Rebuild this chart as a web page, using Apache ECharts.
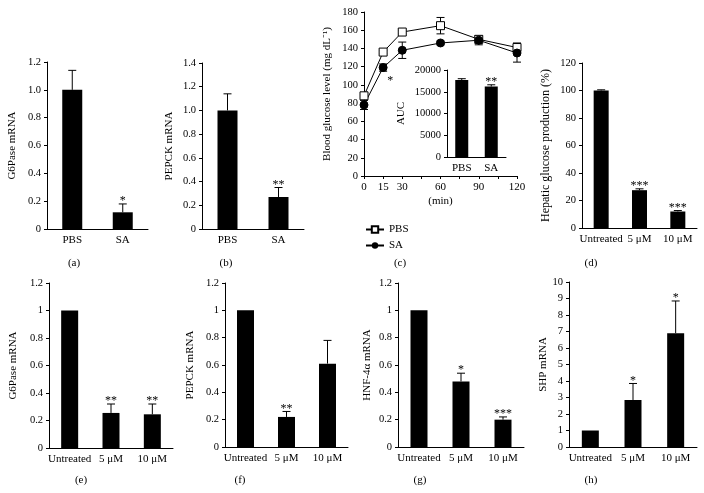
<!DOCTYPE html>
<html><head><meta charset="utf-8">
<script src="https://cdn.jsdelivr.net/npm/echarts@6/dist/echarts.min.js"></script>
<style>html,body{margin:0;padding:0;background:#fff}#c{width:704px;height:493px}</style>
</head><body><div id="c"></div>
<script>
const catsPS = ['PBS', 'SA'];
const catsDose = ['Untreated', '5 μM', '10 μM'];
const aVal = [1.0, 0.12], aErr = [0.14, 0.06], aSig = ['', '*'];
const bVal = [1.0, 0.27], bErr = [0.14, 0.08], bSig = ['', '**'];
const cTime = [0, 15, 30, 60, 90, 120];
const cPBS = [88, 136, 158, 165, 150, 141], cPBSErr = [3, 2, 2, 9, 4, 5];
const cSA = [78, 119, 138, 146, 149, 135], cSAErr = [5, 4, 9, 2, 5, 10];
const cSASig = ['', '*', '', '', '', ''];
const cTickLabels = [0, 15, 30, 60, 90, 120];
const aucVal = [17700, 16200], aucErr = [300, 400], aucSig = ['', '**'];
const dVal = [100, 27.5, 12], dErr = [0.5, 1, 0.7], dSig = ['', '***', '***'];
const eVal = [1, 0.255, 0.245], eErr = [0, 0.065, 0.075], eSig = ['', '**', '**'];
const fVal = [1, 0.22, 0.61], fErr = [0, 0.04, 0.17], fSig = ['', '**', ''];
const gVal = [1, 0.48, 0.20], gErr = [0, 0.06, 0.02], gSig = ['', '*', '***'];
const hVal = [1, 2.85, 6.9], hErr = [0.03, 1.0, 1.95], hSig = ['', '*', '*'];

const F = '"Liberation Serif", "Times New Roman", serif';

function makeErr(sig, twoSided, below) {
  return function (params, api) {
    const i = params.dataIndex;
    const x = api.value(0);
    const pLo = api.coord([x, api.value(1)]);
    const pHi = api.coord([x, api.value(2)]);
    const cap = 4;
    const ch = [];
    if (Math.abs(pLo[1] - pHi[1]) > 0.5) {
      ch.push({type: 'line', shape: {x1: pHi[0], y1: pLo[1], x2: pHi[0], y2: pHi[1]}, style: {stroke: '#000', lineWidth: 1}});
      ch.push({type: 'line', shape: {x1: pHi[0] - cap, y1: pHi[1], x2: pHi[0] + cap, y2: pHi[1]}, style: {stroke: '#000', lineWidth: 1}});
      if (twoSided) ch.push({type: 'line', shape: {x1: pLo[0] - cap, y1: pLo[1], x2: pLo[0] + cap, y2: pLo[1]}, style: {stroke: '#000', lineWidth: 1}});
    }
    if (sig && sig[i]) {
      if (below) {
        ch.push({type: 'text', x: pLo[0] + 4, y: pLo[1] + 4, style: {text: sig[i], align: 'left', verticalAlign: 'top', fontSize: 12, fontFamily: F, fill: '#000'}});
      } else {
        ch.push({type: 'text', x: pHi[0], y: pHi[1] + 3, style: {text: sig[i], align: 'center', verticalAlign: 'bottom', fontSize: 12, fontFamily: F, fill: '#000'}});
      }
    }
    return {type: 'group', children: ch};
  };
}

function yAx(gi, max, interval, name, nameGap, fmt, nameSize) {
  const ax = {
    type: 'value', gridIndex: gi, min: 0, max: max, interval: interval,
    name: name, nameLocation: 'middle', nameGap: nameGap,
    nameTextStyle: {fontFamily: F, fontSize: nameSize || 11, color: '#000'},
    axisLine: {show: true, lineStyle: {color: '#000', width: 1}},
    axisTick: {show: true, length: 3, lineStyle: {color: '#000'}},
    splitLine: {show: false},
    axisLabel: {fontFamily: F, fontSize: 10.5, color: '#000', margin: 6}
  };
  if (fmt) ax.axisLabel.formatter = fmt;
  return ax;
}
function xCat(gi, data) {
  return {
    type: 'category', gridIndex: gi, data: data,
    axisLine: {lineStyle: {color: '#000', width: 1}},
    axisTick: {length: 4, lineStyle: {color: '#000'}},
    axisLabel: {fontFamily: F, fontSize: 11, color: '#000', margin: 6, interval: 0}
  };
}
const oneDec = v => (v === 0 ? '0' : v.toFixed(1));
const plain = v => String(v);

function barSet(gi, vals, errs, sig, bw) {
  return [
    {type: 'bar', xAxisIndex: gi, yAxisIndex: gi, data: vals, barWidth: bw, itemStyle: {color: '#000'}, silent: true},
    {type: 'custom', xAxisIndex: gi, yAxisIndex: gi, z: 5, renderItem: makeErr(sig, false, false),
     encode: {x: 0, y: [1, 2]}, data: vals.map((v, i) => [i, v, v + errs[i]])}
  ];
}

const grids = [
  {left: 47, top: 62, width: 101, height: 167},   // a
  {left: 202, top: 63, width: 102, height: 166},  // b
  {left: 364, top: 12, width: 153, height: 164},  // c
  {left: 447, top: 70, width: 59, height: 87},    // inset
  {left: 582, top: 63, width: 115, height: 165},  // d
  {left: 49, top: 283, width: 124, height: 165},  // e
  {left: 225, top: 283, width: 123, height: 164}, // f
  {left: 398, top: 283, width: 126, height: 164}, // g
  {left: 569, top: 282, width: 128, height: 165}  // h
];

const xAxes = [
  xCat(0, catsPS),
  xCat(1, catsPS),
  {type: 'value', gridIndex: 2, min: 0, max: 120, interval: 15,
   name: '(min)', nameLocation: 'middle', nameGap: 20,
   nameTextStyle: {fontFamily: F, fontSize: 11, color: '#000'},
   axisLine: {lineStyle: {color: '#000', width: 1}},
   axisTick: {length: 3, lineStyle: {color: '#000'}},
   splitLine: {show: false},
   axisLabel: {fontFamily: F, fontSize: 11, color: '#000', margin: 6,
     formatter: v => (cTickLabels.indexOf(v) >= 0 ? String(v) : '')}},
  xCat(3, catsPS),
  xCat(4, catsDose),
  xCat(5, catsDose),
  xCat(6, catsDose),
  xCat(7, catsDose),
  xCat(8, catsDose)
];

const yAxes = [
  yAx(0, 1.2, 0.2, 'G6Pase mRNA', 29, oneDec),
  yAx(1, 1.4, 0.2, 'PEPCK mRNA', 27, oneDec),
  yAx(2, 180, 20, 'Blood glucose level (mg dL\u207B\u00B9)', 31, plain),
  yAx(3, 20000, 5000, 'AUC', 40, plain),
  yAx(4, 120, 20, 'Hepatic glucose production (%)', 30, plain, 12),
  yAx(5, 1.2, 0.2, 'G6Pase mRNA', 30),
  yAx(6, 1.2, 0.2, 'PEPCK mRNA', 29),
  yAx(7, 1.2, 0.2, 'HNF-4\u03B1 mRNA', 25),
  yAx(8, 10, 1, 'SHP mRNA', 20)
];

const series = [].concat(
  barSet(0, aVal, aErr, aSig, 20),
  barSet(1, bVal, bErr, bSig, 20),
  [
    {type: 'custom', xAxisIndex: 2, yAxisIndex: 2, z: 3, renderItem: makeErr(null, true, false),
     encode: {x: 0, y: [1, 2]}, data: cTime.map((t, i) => [t, cPBS[i] - cPBSErr[i], cPBS[i] + cPBSErr[i]])},
    {type: 'custom', xAxisIndex: 2, yAxisIndex: 2, z: 3, renderItem: makeErr(cSASig, true, true),
     encode: {x: 0, y: [1, 2]}, data: cTime.map((t, i) => [t, cSA[i] - cSAErr[i], cSA[i] + cSAErr[i]])},
    {type: 'line', name: 'PBS', xAxisIndex: 2, yAxisIndex: 2, z: 4,
     data: cTime.map((t, i) => [t, cPBS[i]]), symbol: 'rect', symbolSize: 8,
     lineStyle: {color: '#000', width: 1}, itemStyle: {color: '#fff', borderColor: '#000', borderWidth: 1}},
    {type: 'line', name: 'SA', xAxisIndex: 2, yAxisIndex: 2, z: 4,
     data: cTime.map((t, i) => [t, cSA[i]]), symbol: 'circle', symbolSize: 8,
     lineStyle: {color: '#000', width: 1}, itemStyle: {color: '#000', borderColor: '#000'}}
  ],
  barSet(3, aucVal, aucErr, aucSig, 13),
  barSet(4, dVal, dErr, dSig, 15),
  barSet(5, eVal, eErr, eSig, 17),
  barSet(6, fVal, fErr, fSig, 17),
  barSet(7, gVal, gErr, gSig, 17),
  barSet(8, hVal, hErr, hSig, 17)
);

const panelLabels = [
  ['(a)', 74, 263], ['(b)', 226, 263], ['(c)', 400, 263], ['(d)', 591, 263],
  ['(e)', 81, 480], ['(f)', 240, 480], ['(g)', 420, 480], ['(h)', 591, 480]
];

const option = {
  animation: false,
  backgroundColor: '#fff',
  grid: grids,
  xAxis: xAxes,
  yAxis: yAxes,
  series: series,
  legend: {
    data: ['PBS', 'SA'], orient: 'vertical', left: 360, top: 219,
    itemWidth: 18, itemHeight: 8, itemGap: 5,
    textStyle: {fontFamily: F, fontSize: 11, color: '#000'}
  },
  graphic: panelLabels.map(p => ({
    type: 'text', x: p[1], y: p[2],
    style: {text: p[0], align: 'center', verticalAlign: 'middle', fontSize: 11, fontFamily: F, fill: '#000'}
  }))
};

const chart = echarts.init(document.getElementById('c'), null, {renderer: 'canvas'});
chart.setOption(option);
</script>
</body></html>
